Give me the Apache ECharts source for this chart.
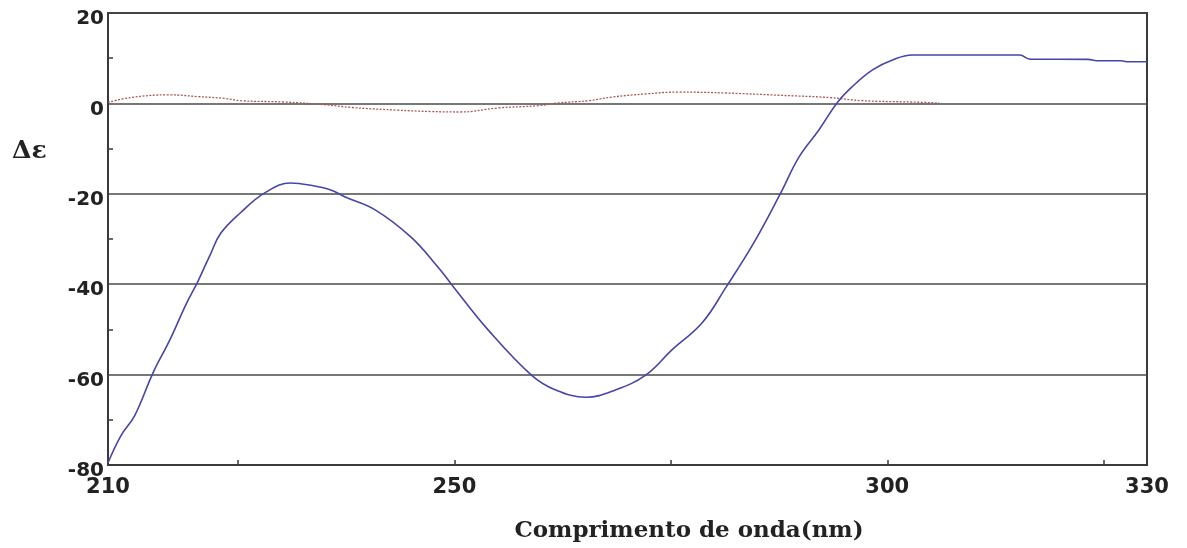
<!DOCTYPE html>
<html>
<head>
<meta charset="utf-8">
<script src="https://cdn.jsdelivr.net/npm/echarts@6/dist/echarts.min.js"></script>
<style>
  html, body { margin: 0; padding: 0; background: #fff; }
  #chart { width: 1187px; height: 548px; }
</style>
</head>
<body>
<div id="chart"></div>
<script>
// CD spectrum: wavelength (nm) vs Δε
const xLabelValues = [210, 250, 300, 330];
const xTickValues = [225, 250, 275, 300, 325];
const yMinorTickValues = [-70, -50, -30, -10, 10];

// main spectrum [wavelength, Δε]
const spectrumA = [
  [210, -79.5], [211.5, -73.5], [213.1, -69.0], [215.2, -59.6], [217.1, -52.5],
  [219.0, -44.5], [220.4, -39.3], [221.8, -33.5], [223.0, -28.8], [225.3, -24.2],
  [228.1, -19.8], [231.1, -17.6], [233.4, -18.1], [235.8, -19.2], [237.4, -20.7],
  [240.9, -23.6], [245.0, -29.6], [248.1, -36.2], [249.9, -40.6], [253.9, -50.1],
  [258.9, -60.1], [261.7, -63.4], [265.2, -65.0], [268.6, -63.4], [272.1, -60.1],
  [275.1, -54.6], [278.6, -48.6], [281.4, -40.6], [284.6, -30.8], [287.7, -19.8],
  [289.8, -11.9], [292.1, -5.9], [294.2, 0.1], [295.9, 3.6], [298.3, 7.4],
  [300.6, 9.6], [302.9, 10.7], [307.2, 10.7], [315.3, 10.7], [316.5, 9.8],
  [323.2, 9.75], [324.2, 9.45], [327.0, 9.45], [327.8, 9.2], [330, 9.2]
];

// reference spectrum near zero [wavelength, Δε]
const spectrumB = [
  [210, 0.2], [212.6, 1.3], [217.1, 1.9], [220.4, 1.5], [223.5, 1.1],
  [225.3, 0.6], [230.4, 0.3], [235.1, -0.3], [238.1, -0.9], [243.5, -1.5],
  [247.3, -1.8], [250.7, -1.9], [255.1, -1.0], [259.7, -0.5], [262.0, 0.1],
  [265.5, 0.6], [268.2, 1.4], [272.1, 2.1], [275.9, 2.5], [281.4, 2.3],
  [287.5, 1.8], [293.3, 1.3], [297.1, 0.6], [302.9, 0.3], [306, 0.1]
];

const chart = echarts.init(document.getElementById('chart'), null, { renderer: 'canvas' });

chart.setOption({
  animation: false,
  backgroundColor: '#ffffff',
  grid: {
    left: 108, right: 40, top: 13, bottom: 83,
    show: true, borderColor: '#3a3a3a', borderWidth: 2, backgroundColor: 'transparent'
  },
  xAxis: {
    type: 'value', min: 210, max: 330,
    axisLine: { show: true, onZero: false, lineStyle: { color: '#3a3a3a', width: 2 } },
    axisTick: { show: true, inside: true, length: 5, customValues: xTickValues,
      lineStyle: { color: '#3a3a3a', width: 1.5 } },
    axisLabel: {
      customValues: xLabelValues, margin: 12,
      fontFamily: 'DejaVu Sans', fontWeight: 'bold', fontSize: 21, color: '#222'
    },
    splitLine: { show: false }
  },
  yAxis: [
    {
      // labelled axis with grid lines every 20
      type: 'value', min: -80, max: 20, interval: 20, position: 'left',
      axisLine: { show: true, onZero: false, lineStyle: { color: '#3a3a3a', width: 2 } },
      axisTick: { show: false },
      axisLabel: {
        margin: 4, verticalAlign: 'top', lineHeight: 12,
        fontFamily: 'DejaVu Sans', fontWeight: 'bold', fontSize: 20, color: '#222'
      },
      splitLine: { show: true, lineStyle: { color: '#4a4a4a', width: 1.5 } }
    },
    {
      // inward ticks between the grid lines
      type: 'value', min: -80, max: 20, position: 'left', offset: 0,
      axisLine: { show: false },
      axisTick: { show: true, inside: true, length: 5, customValues: yMinorTickValues,
        lineStyle: { color: '#3a3a3a', width: 1.5 } },
      axisLabel: { show: false },
      splitLine: { show: false }
    }
  ],
  graphic: [
    {
      type: 'text', left: 12, top: 139,
      style: { text: 'Δε', fontFamily: 'DejaVu Serif', fontWeight: 'bold', fontSize: 25, fill: '#222' }
    },
    {
      type: 'text', x: 689, y: 531,
      style: { text: 'Comprimento de onda(nm)', fontFamily: 'DejaVu Serif', fontWeight: 'bold',
        fontSize: 23, fill: '#222', align: 'center', verticalAlign: 'middle' }
    }
  ],
  series: [
    {
      type: 'line', data: spectrumB, yAxisIndex: 0, showSymbol: false, smooth: 0.4, z: 3,
      lineStyle: { color: '#a85a5a', width: 1.3, type: [2, 1.5] }
    },
    {
      type: 'line', data: spectrumA, yAxisIndex: 0, showSymbol: false, smooth: 0.4, z: 4,
      lineStyle: { color: '#4646a6', width: 1.6 }
    }
  ]
});
</script>
</body>
</html>
